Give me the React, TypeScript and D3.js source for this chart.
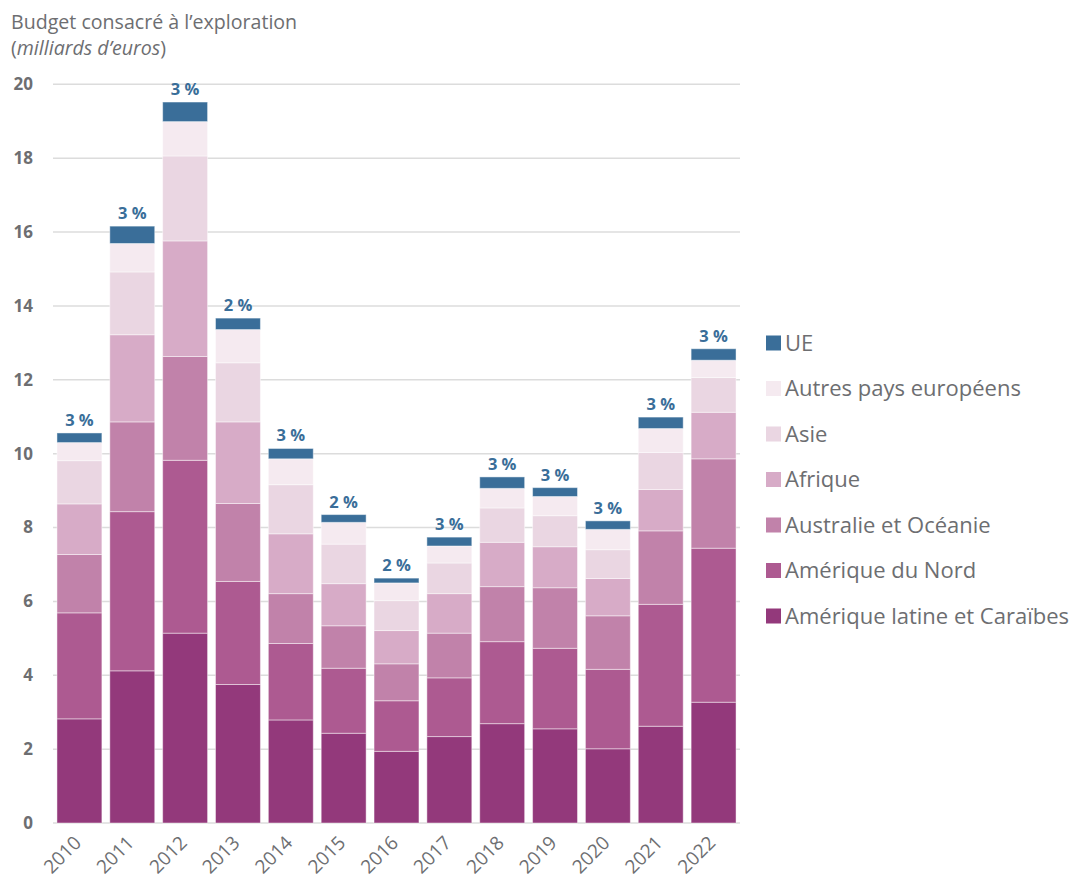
import React from "react";
import * as d3 from "d3";

const years = ["2010","2011","2012","2013","2014","2015","2016","2017","2018","2019","2020","2021","2022"];
const ameriqueLatine = [2.82, 4.12, 5.14, 3.75, 2.79, 2.43, 1.94, 2.34, 2.69, 2.55, 2.01, 2.62, 3.27];
const ameriqueNord   = [2.87, 4.31, 4.68, 2.79, 2.07, 1.76, 1.37, 1.59, 2.22, 2.18, 2.15, 3.30, 4.17];
const australie      = [1.58, 2.43, 2.81, 2.11, 1.35, 1.15, 1.00, 1.21, 1.49, 1.64, 1.45, 1.99, 2.42];
const afrique        = [1.37, 2.36, 3.13, 2.21, 1.62, 1.14, 0.90, 1.07, 1.20, 1.11, 1.01, 1.12, 1.26];
const asie           = [1.17, 1.70, 2.30, 1.60, 1.33, 1.07, 0.81, 0.83, 0.93, 0.84, 0.78, 1.00, 0.94];
const autresEurope   = [0.49, 0.77, 0.93, 0.90, 0.70, 0.59, 0.48, 0.46, 0.53, 0.52, 0.55, 0.65, 0.47];
const ue             = [0.26, 0.47, 0.53, 0.31, 0.28, 0.21, 0.13, 0.24, 0.31, 0.24, 0.23, 0.31, 0.31];
const uePercent = ["3 %","3 %","3 %","2 %","3 %","2 %","2 %","3 %","3 %","3 %","3 %","3 %","3 %"];
const yTicks = [0, 2, 4, 6, 8, 10, 12, 14, 16, 18, 20];

const seriesNames = ["Amérique latine et Caraïbes","Amérique du Nord","Australie et Océanie","Afrique","Asie","Autres pays européens","UE"];
const seriesData = [ameriqueLatine, ameriqueNord, australie, afrique, asie, autresEurope, ue];
const colors = ["#93397b","#ad5a91","#c182aa","#d7abc7","#ead6e2","#f5eaf0","#3a6e99"];

const FONT = "'Open Sans', 'Noto Sans', sans-serif";
const GRAY = "#6d6e71";

export default function App() {
  const width = 1071, height = 882;
  const x = d3.scaleBand<string>().domain(years).range([53, 740]).paddingInner(0.15).paddingOuter(0.075);
  const y = d3.scaleLinear().domain([0, 20]).range([823, 84.3]);

  const rows = years.map((yr, i) => {
    const o: any = { year: yr };
    seriesNames.forEach((s, j) => { o[s] = seriesData[j][i]; });
    return o;
  });
  const stack = d3.stack<any>().keys(seriesNames)(rows);

  const legendOrder = [...seriesNames].reverse();
  const legendY0 = 343, legendStep = 45.5;

  return (
    <svg width={width} height={height} style={{ display: "block", position: "absolute", left: 0, top: 0 }} fontFamily={FONT}>
      <text x={11} y={29} fontSize={19.6} fill={GRAY}>Budget consacré à l’exploration</text>
      <text x={11} y={55} fontSize={19.6} fill={GRAY}>(<tspan fontStyle="italic">milliards d’euros</tspan>)</text>

      {yTicks.map(t => (
        <g key={t}>
          <line x1={53} x2={740} y1={y(t)} y2={y(t)} stroke="#dcdcdc" strokeWidth={1.5} />
          <text x={33} y={y(t)} dy="0.35em" textAnchor="end" fontSize={17} fontWeight="bold" fill={GRAY}>{t}</text>
        </g>
      ))}

      {stack.map((layer, j) => (
        <g key={j} fill={colors[j]}>
          {layer.map((d, i) => (
            <rect key={i} x={x(years[i])} width={x.bandwidth()} y={y(d[1])} height={y(d[0]) - y(d[1])}
              stroke="#ffffff" strokeOpacity={0.45} strokeWidth={1} />
          ))}
        </g>
      ))}

      {years.map((yr, i) => {
        const top = stack[stack.length - 1][i][1];
        return (
          <text key={yr} x={(x(yr) as number) + x.bandwidth() / 2} y={y(top) - 7} textAnchor="middle"
            fontSize={16.5} fontWeight="bold" fill="#3a6e99">{uePercent[i]}</text>
        );
      })}

      {years.map(yr => {
        const cx = (x(yr) as number) + x.bandwidth() / 2;
        return (
          <text key={yr} transform={`translate(${cx + 3},${844}) rotate(-45)`} textAnchor="end"
            fontSize={19} fill={GRAY}>{yr}</text>
        );
      })}

      {legendOrder.map((name, k) => {
        const j = seriesNames.indexOf(name);
        const cy = legendY0 + k * legendStep;
        return (
          <g key={name}>
            <rect x={766} y={cy - 7.5} width={15} height={15} fill={colors[j]} />
            <text x={785} y={cy} dy="0.35em" fontSize={22} fill={GRAY}>{name}</text>
          </g>
        );
      })}
    </svg>
  );
}
